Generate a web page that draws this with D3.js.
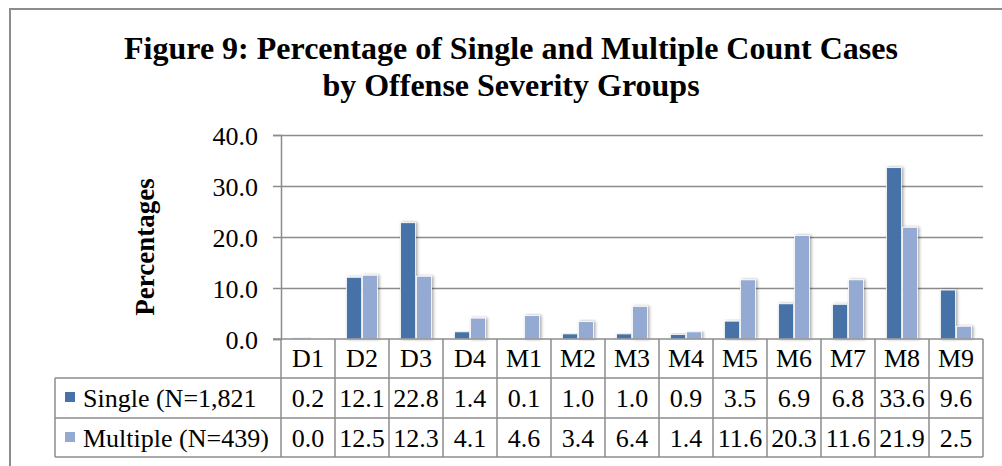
<!DOCTYPE html>
<html>
<head>
<meta charset="utf-8">
<script src="https://cdn.jsdelivr.net/npm/d3@7"></script>
<style>
body {margin:0; background:#fff}
svg {display:block}
</style>
</head>
<body>
<div class="svgHolder"></div>
<script>
const wd = 1002
const ht = 466
const fontSize = 26

// data
const categories = ["D1","D2","D3","D4","M1","M2","M3","M4","M5","M6","M7","M8","M9"]
const seriesNames = ["Single (N=1,821", "Multiple (N=439)"]
const single = [0.2,12.1,22.8,1.4,0.1,1.0,1.0,0.9,3.5,6.9,6.8,33.6,9.6]
const multiple = [0.0,12.5,12.3,4.1,4.6,3.4,6.4,1.4,11.6,20.3,11.6,21.9,2.5]
const yTicks = [0,10,20,30,40]
const titleLines = ["Figure 9: Percentage of Single and Multiple Count Cases", "by Offense Severity Groups"]
const yLabel = "Percentages"

const cols = ["#4672a7", "#94aad3"]
const lineCol = "#8c8c8c"
const serif = "'Liberation Serif', 'Times New Roman', serif"

const plot = {left: 281, right: 983, top: 135, bottom: 339}
const table = {left: 55, rowTop: [339, 378, 418], bottom: 457}

const svg = d3.select(".svgHolder").append("svg")
  .attr("width", wd)
  .attr("height", ht)
  .style("font-family", serif)

const defs = svg.append("defs")
const shadow = defs.append("filter").attr("id", "barShadow")
  .attr("x", "-30%").attr("y", "-10%").attr("width", "160%").attr("height", "120%")
shadow.append("feDropShadow")
  .attr("dx", 1.5).attr("dy", 0).attr("stdDeviation", 1.5)
  .attr("flood-color", "#000").attr("flood-opacity", 0.35)

svg.append("rect").attr("width", wd).attr("height", ht).attr("fill", "#fff")

// frame (left + top edge only visible)
svg.append("path")
  .attr("d", `M10,${ht} L10,9 L${wd},9`)
  .attr("fill", "none")
  .attr("stroke", lineCol)
  .attr("stroke-width", 2)

// title
svg.append("g").selectAll("text")
  .data(titleLines)
  .enter().append("text")
  .attr("x", 511)
  .attr("y", (d, i) => 59 + i * 37)
  .attr("text-anchor", "middle")
  .attr("font-family", serif)
  .attr("font-size", 32)
  .attr("font-weight", "bold")
  .attr("fill", "#000")
  .text(d => d)

// scales
const x0 = d3.scaleBand()
  .domain(categories)
  .range([plot.left, plot.right])
  .padding(0)
const bw = x0.bandwidth()

const x1 = d3.scaleBand()
  .domain([0, 1])
  .range([bw / 2 - 15.5, bw / 2 + 15.5])
  .paddingInner(0.06)

const y = d3.scaleLinear()
  .domain([0, 40])
  .range([plot.bottom, plot.top])

// gridlines
const grid = svg.append("g")
  .attr("transform", `translate(${plot.left},0)`)
  .call(d3.axisLeft(y).tickValues(yTicks.filter(d => d > 0)).tickSize(-(plot.right - plot.left)).tickFormat(""))
grid.select(".domain").remove()
grid.selectAll("line").attr("stroke", lineCol).attr("stroke-width", 1.5)

// bars
const rows = categories.map((c, i) => ({cat: c, vals: [single[i], multiple[i]]}))

const groups = svg.append("g").selectAll("g")
  .data(rows)
  .enter().append("g")
  .attr("transform", d => `translate(${x0(d.cat)},0)`)

groups.selectAll("rect")
  .data(d => d.vals.map((v, k) => ({k: k, v: v})))
  .enter().append("rect")
  .attr("x", d => x1(d.k))
  .attr("y", d => y(d.v))
  .attr("width", x1.bandwidth())
  .attr("height", d => y(0) - y(d.v))
  .attr("fill", d => cols[d.k])
  .attr("stroke", "#fff")
  .attr("stroke-width", 0.8)
  .attr("filter", d => d.v > 0 ? "url(#barShadow)" : null)

// y axis
const yAxis = svg.append("g")
  .attr("transform", `translate(${plot.left},0)`)
  .call(d3.axisLeft(y).tickValues(yTicks).tickSize(8).tickPadding(15).tickFormat(d3.format(".1f")))
yAxis.select(".domain").attr("stroke", lineCol).attr("stroke-width", 1.5)
yAxis.selectAll("line").attr("stroke", lineCol).attr("stroke-width", 1.5)
yAxis.selectAll("text")
  .attr("font-family", serif)
  .attr("font-size", fontSize)
  .attr("fill", "#000")
  .attr("dy", "0.35em")

// axis title
svg.append("text")
  .attr("transform", "translate(154,247) rotate(-90)")
  .attr("text-anchor", "middle")
  .attr("font-family", serif)
  .attr("font-size", 27)
  .attr("font-weight", "bold")
  .text(yLabel)

// data table
const tbl = svg.append("g")
const hLines = [
  {y: table.rowTop[0], x1: plot.left - 8, x2: plot.right},
  {y: table.rowTop[1], x1: table.left, x2: plot.right},
  {y: table.rowTop[2], x1: table.left, x2: plot.right},
  {y: table.bottom, x1: table.left, x2: plot.right}
]
tbl.selectAll("line.h")
  .data(hLines)
  .enter().append("line")
  .attr("class", "h")
  .attr("x1", d => d.x1).attr("x2", d => d.x2)
  .attr("y1", d => d.y).attr("y2", d => d.y)
  .attr("stroke", lineCol).attr("stroke-width", 1.5)

const edges = categories.map(c => x0(c)).concat([plot.right])
tbl.selectAll("line.v")
  .data(edges)
  .enter().append("line")
  .attr("class", "v")
  .attr("x1", d => d).attr("x2", d => d)
  .attr("y1", table.rowTop[0]).attr("y2", table.bottom)
  .attr("stroke", lineCol).attr("stroke-width", 1.5)

tbl.append("line")
  .attr("x1", table.left).attr("x2", table.left)
  .attr("y1", table.rowTop[1]).attr("y2", table.bottom)
  .attr("stroke", lineCol).attr("stroke-width", 1.5)

// category labels
tbl.selectAll("text.cat")
  .data(categories)
  .enter().append("text")
  .attr("class", "cat")
  .attr("x", d => x0(d) + bw / 2)
  .attr("y", table.rowTop[0] + 28)
  .attr("text-anchor", "middle")
  .attr("font-family", serif)
  .attr("font-size", fontSize)
  .text(d => d)

// value rows
const fmt = d3.format(".1f")
;[single, multiple].forEach((vals, k) => {
  const rowY = table.rowTop[k + 1]
  tbl.selectAll("text.val" + k)
    .data(vals)
    .enter().append("text")
    .attr("class", "val" + k)
    .attr("x", (d, i) => x0(categories[i]) + bw / 2)
    .attr("y", rowY + 29)
    .attr("text-anchor", "middle")
    .attr("font-family", serif)
    .attr("font-size", fontSize)
    .text(d => fmt(d))

  tbl.append("rect")
    .attr("x", 65).attr("y", rowY + 14)
    .attr("width", 10).attr("height", 10)
    .attr("fill", cols[k])

  tbl.append("text")
    .attr("x", 83)
    .attr("y", rowY + 29)
    .attr("font-family", serif)
    .attr("font-size", fontSize)
    .text(seriesNames[k])
})
</script>
</body>
</html>
